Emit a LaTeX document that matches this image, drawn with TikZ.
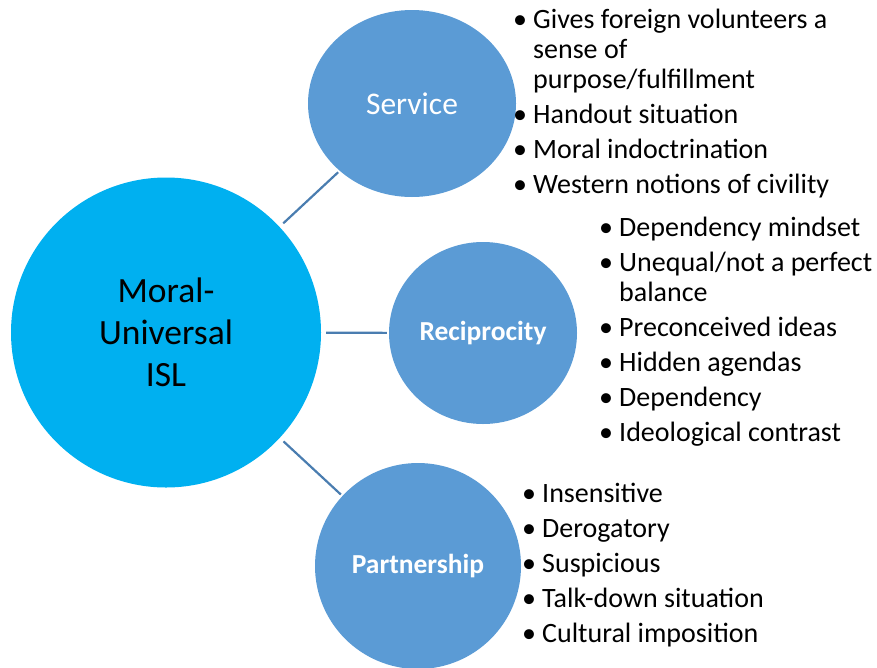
\documentclass[tikz,border=0pt]{standalone}
\usepackage{fontspec}
\setmainfont{Carlito}
\usetikzlibrary{shapes.geometric}

\definecolor{hubblue}{HTML}{00B0F0}
\definecolor{satblue}{HTML}{5B9BD5}
\definecolor{linkblue}{HTML}{4A7DB0}

% bullet list lines: a bulleted first line, indented continuation lines
\newcommand\bitem[1]{\hbox{\makebox[20pt][l]{\textbullet}#1}}
\newcommand\bcont[1]{\hbox{\hspace*{20pt}#1}}
\newcommand\bgap{\vskip5pt}

\tikzset{
  hub/.style={circle, fill=hubblue, minimum size=310pt, inner sep=0pt,
    align=center, text=black, font=\fontsize{35.5}{42}\selectfont},
  sat/.style={ellipse, fill=satblue, inner sep=0pt, text=white},
  satlabel/.style={font=\fontsize{27.5}{33}\selectfont\bfseries},
  conn/.style={draw=linkblue, line width=2.2pt, shorten <=5pt, shorten >=2pt},
  listtext/.style={anchor=base west, inner sep=0pt, text=black,
    font=\fontsize{28}{30}\selectfont}
}

\begin{document}
\begin{tikzpicture}[x=1pt, y=-1pt]
  \path[use as bounding box] (0,0) rectangle (877,667);

  % central concept
  \node[hub] (moral) at (166,332.5) {Moral-\\Universal\\ISL};

  % three satellite concepts
  \node[sat, minimum width=208pt, minimum height=187pt,
        font=\fontsize{31.5}{36}\selectfont] (service) at (412,103.5) {Service};
  \node[sat, satlabel, minimum width=188pt, minimum height=182pt]
        (recip) at (483,333) {Reciprocity};
  \node[sat, satlabel, minimum width=206pt, minimum height=206pt]
        (partner) at (418,566) {Partnership};

  % spokes
  \draw[conn] (moral) -- (service);
  \draw[conn] (moral) -- (recip);
  \draw[conn] (moral) -- (partner);

  % attribute lists
  \node[listtext] (servicelist) at (513,28) {\vtop{%
    \bitem{Gives foreign volunteers a}
    \bcont{sense of}
    \bcont{purpose/fulfillment}\bgap
    \bitem{Handout situation}\bgap
    \bitem{Moral indoctrination}\bgap
    \bitem{Western notions of civility}}};

  \node[listtext] (reciplist) at (599,236) {\vtop{%
    \bitem{Dependency mindset}\bgap
    \bitem{Unequal/not a perfect}
    \bcont{balance}\bgap
    \bitem{Preconceived ideas}\bgap
    \bitem{Hidden agendas}\bgap
    \bitem{Dependency}\bgap
    \bitem{Ideological contrast}}};

  \node[listtext] (partnerlist) at (522,502) {\vtop{%
    \bitem{Insensitive}\bgap
    \bitem{Derogatory}\bgap
    \bitem{Suspicious}\bgap
    \bitem{Talk-down situation}\bgap
    \bitem{Cultural imposition}}};
\end{tikzpicture}
\end{document}
